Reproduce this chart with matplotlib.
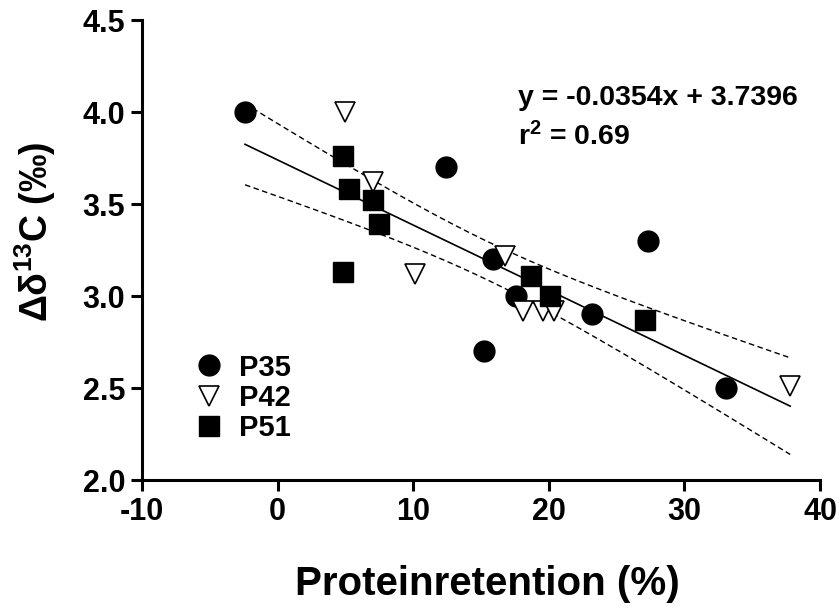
import numpy as np
import matplotlib
matplotlib.use('Agg')
import matplotlib.pyplot as plt

# dados
p35_x = [-2.4, 12.4, 27.3, 15.9, 17.6, 23.2, 15.2, 33.1]
p35_y = [4.0, 3.7, 3.3, 3.2, 3.0, 2.9, 2.7, 2.5]
p42_x = [5.0, 7.0, 10.1, 16.8, 18.1, 19.6, 20.4, 37.8]
p42_y = [4.0, 3.62, 3.12, 3.22, 2.92, 2.92, 2.92, 2.51]
p51_x = [4.8, 5.3, 7.0, 7.5, 4.8, 18.7, 20.1, 27.1]
p51_y = [3.76, 3.58, 3.52, 3.39, 3.13, 3.11, 3.0, 2.87]

slope = -0.0354
intercept = 3.7396
r2 = 0.69

x_ticks = [-10, 0, 10, 20, 30, 40]
y_ticks = [2.0, 2.5, 3.0, 3.5, 4.0, 4.5]

plt.rcParams['font.family'] = ['Liberation Sans', 'DejaVu Sans']
plt.rcParams['font.weight'] = 'bold'
plt.rcParams['mathtext.fontset'] = 'custom'
plt.rcParams['mathtext.rm'] = 'Liberation Sans:bold'
plt.rcParams['mathtext.it'] = 'Liberation Sans:bold'
plt.rcParams['mathtext.bf'] = 'Liberation Sans:bold'

fig = plt.figure(figsize=(8.39, 6.10), dpi=100)
ax = fig.add_axes([0.1692, 0.2131, 0.8082, 0.7541])

# regressao e intervalo de confianca 95%
x_all = np.array(p35_x + p42_x + p51_x)
y_all = np.array(p35_y + p42_y + p51_y)
n = len(x_all)
resid = y_all - (slope * x_all + intercept)
s = np.sqrt(np.sum(resid ** 2) / (n - 2))
sxx = np.sum((x_all - x_all.mean()) ** 2)
t = 2.074
xs = np.linspace(x_all.min(), x_all.max(), 200)
ys = slope * xs + intercept
ci = t * s * np.sqrt(1 / n + (xs - x_all.mean()) ** 2 / sxx)

ax.plot(xs, ys, color='black', lw=1.2, zorder=2)
ax.plot(xs, ys + ci, color='black', lw=1.0, ls=(0, (4, 2.5)), zorder=2)
ax.plot(xs, ys - ci, color='black', lw=1.0, ls=(0, (4, 2.5)), zorder=2)

ax.plot(p35_x, p35_y, 'o', ms=15, color='black', ls='none', label='P35', zorder=3)
ax.plot(p42_x, p42_y, 'v', ms=15, mfc='white', mec='black', mew=1.2, ls='none', label='P42', zorder=3)
ax.plot(p51_x, p51_y, 's', ms=15, color='black', ls='none', label='P51', zorder=3)

ax.set_xlim(-10, 40)
ax.set_ylim(2.0, 4.5)
ax.set_xticks(x_ticks)
ax.set_yticks(y_ticks)
ax.set_xticklabels([str(v) for v in x_ticks])
ax.set_yticklabels(['%.1f' % v for v in y_ticks])

for lado in ['top', 'right']:
    ax.spines[lado].set_visible(False)
for lado in ['left', 'bottom']:
    ax.spines[lado].set_linewidth(2.2)
ax.tick_params(width=2.2, length=8, labelsize=22, pad=4)

ax.set_xlabel('Proteinretention (%)', fontsize=29, fontweight='bold')
ax.xaxis.set_label_coords(0.509, -0.185)
ax.set_ylabel('Δδ$^{13}$C (‰)', fontsize=27, fontweight='bold')
ax.yaxis.set_label_coords(-0.124, 0.539)

ax.text(518 / 839, 1 - 105 / 610, 'y = -0.0354x + 3.7396', transform=fig.transFigure,
        fontsize=20.5, fontweight='bold', va='baseline', ha='left')
ax.text(518 / 839, 1 - 145 / 610, 'r$^{2}$ = %.2f' % r2, transform=fig.transFigure,
        fontsize=20.5, fontweight='bold', va='baseline', ha='left')

ax.legend(loc='upper left', bbox_to_anchor=(0.05, 0.30), frameon=False, fontsize=21,
          handletextpad=0.25, labelspacing=0.08, borderaxespad=0, handlelength=1.5)

fig.savefig('out.png', dpi=100)
